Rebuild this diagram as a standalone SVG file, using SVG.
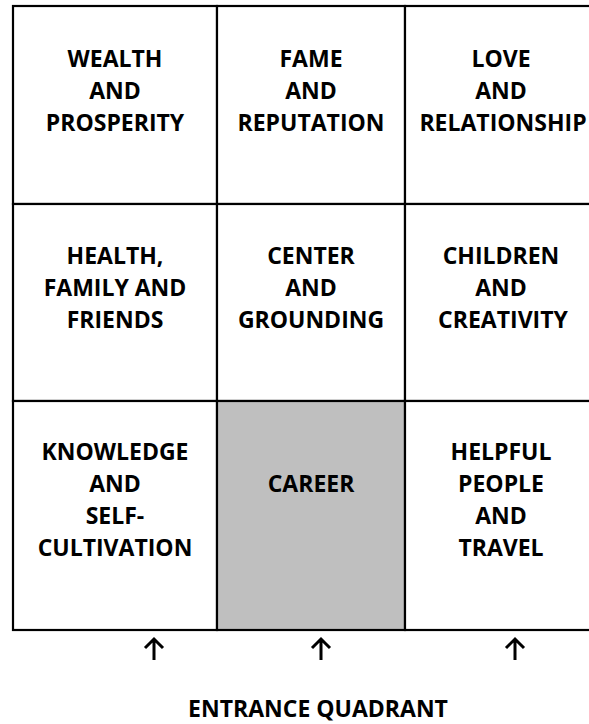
<svg xmlns="http://www.w3.org/2000/svg" width="589" height="724" viewBox="0 0 589 724">
<style>
.cell{fill:#ffffff;stroke:#000;stroke-width:2.2}
.shade{fill:#bfbfbf}
.t{font-family:"Open Sans","Noto Sans",sans-serif;font-weight:700;font-size:23px;fill:#000;text-anchor:middle}
.arr{fill:none;stroke:#000;stroke-width:3;stroke-linecap:butt}
</style>
<rect x="0" y="0" width="589" height="724" fill="#fff"/>
<g id="wealth">
<rect class="cell" x="13" y="6" width="204" height="198"/>
<text class="t" x="115" y="67">WEALTH</text>
<text class="t" x="115" y="99">AND</text>
<text class="t" x="115" y="131">PROSPERITY</text>
</g>
<g id="fame">
<rect class="cell" x="217" y="6" width="188" height="198"/>
<text class="t" x="311" y="67">FAME</text>
<text class="t" x="311" y="99">AND</text>
<text class="t" x="311" y="131">REPUTATION</text>
</g>
<g id="love">
<rect class="cell" x="405" y="6" width="200" height="198"/>
<text class="t" x="501" y="67">LOVE</text>
<text class="t" x="501" y="99">AND</text>
<text class="t" x="503" y="131">RELATIONSHIP</text>
</g>
<g id="health">
<rect class="cell" x="13" y="204" width="204" height="197"/>
<text class="t" x="115" y="264">HEALTH,</text>
<text class="t" x="115" y="296">FAMILY AND</text>
<text class="t" x="115" y="328">FRIENDS</text>
</g>
<g id="center">
<rect class="cell" x="217" y="204" width="188" height="197"/>
<text class="t" x="311" y="264">CENTER</text>
<text class="t" x="311" y="296">AND</text>
<text class="t" x="311" y="328">GROUNDING</text>
</g>
<g id="children">
<rect class="cell" x="405" y="204" width="200" height="197"/>
<text class="t" x="501" y="264">CHILDREN</text>
<text class="t" x="501" y="296">AND</text>
<text class="t" x="503" y="328">CREATIVITY</text>
</g>
<g id="knowledge">
<rect class="cell" x="13" y="401" width="204" height="229"/>
<text class="t" x="115" y="460">KNOWLEDGE</text>
<text class="t" x="115" y="492">AND</text>
<text class="t" x="115" y="524">SELF-</text>
<text class="t" x="115" y="556">CULTIVATION</text>
</g>
<g id="career">
<rect class="cell shade" x="217" y="401" width="188" height="229"/>
<text class="t" x="311" y="492">CAREER</text>
</g>
<g id="helpful">
<rect class="cell" x="405" y="401" width="200" height="229"/>
<text class="t" x="501" y="460">HELPFUL</text>
<text class="t" x="501" y="492">PEOPLE</text>
<text class="t" x="501" y="524">AND</text>
<text class="t" x="501" y="556">TRAVEL</text>
</g>
<g id="connectors">
<path class="arr" d="M154 660V639M145 648L154 639L163 648"/>
<path class="arr" d="M321 660V639M312 648L321 639L330 648"/>
<path class="arr" d="M515 660V639M506 648L515 639L524 648"/>
</g>
<g id="entrance">
<text class="t" x="318" y="717">ENTRANCE QUADRANT</text>
</g>
</svg>
